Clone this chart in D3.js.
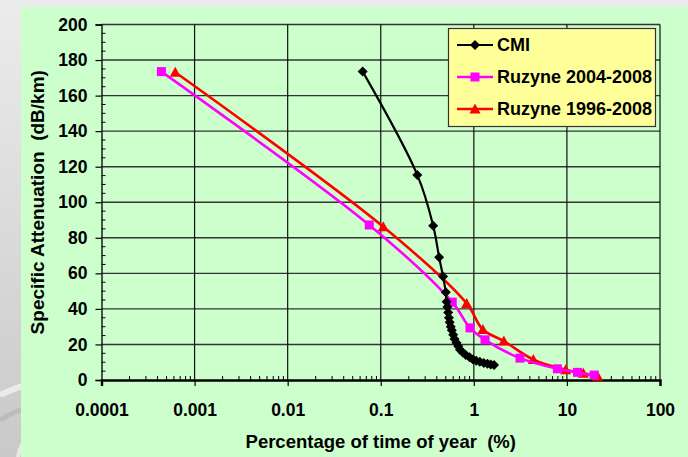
<!DOCTYPE html>
<html>
<head>
<meta charset="utf-8">
<script src="https://cdn.jsdelivr.net/npm/d3@7"></script>
<style>
  body { margin: 0; }
  svg { display: block; font-family: "Liberation Sans", Arial, sans-serif; font-weight: bold; }
</style>
</head>
<body>
<div id="my_dataviz"></div>
<script>
// values
var seriesNames = ["CMI", "Ruzyne 2004-2008", "Ruzyne 1996-2008"];

var cmiPct = [0.064, 0.247, 0.366, 0.424, 0.467, 0.50, 0.51, 0.52, 0.53, 0.54, 0.55, 0.565, 0.58, 0.60,
              0.62, 0.65, 0.68, 0.71, 0.76, 0.82, 0.9, 0.98, 1.06, 1.16, 1.28, 1.4, 1.52, 1.65];
var cmiAtt = [173.5, 115.4, 86.8, 69, 58.2, 49.3, 44, 41, 38, 35, 32.5, 30, 28, 25.5,
              23, 21, 19, 17, 15.5, 14, 12.8, 11.6, 10.8, 10.2, 9.6, 9.1, 8.7, 8.4];

var r0408Pct = [0.00044, 0.0752, 0.586, 0.91, 1.32, 3.13, 7.9, 13.0, 19.6];
var r0408Att = [173.5, 87.2, 43.8, 29.3, 22.6, 12.3, 6.3, 4.3, 2.8];

var r9608Pct = [0.00062, 0.1064, 0.837, 1.25, 2.1, 4.36, 9.7, 15.0, 21.4];
var r9608Att = [173.1, 86.2, 43.1, 28.4, 21.9, 11.5, 5.8, 3.8, 2.1];

var xTicks = [0.0001, 0.001, 0.01, 0.1, 1, 10, 100];
var xTickLabels = ["0.0001", "0.001", "0.01", "0.1", "1", "10", "100"];
var yTicks = [0, 20, 40, 60, 80, 100, 120, 140, 160, 180, 200];

// dimensions
var W = 688, H = 457;
var margin = {top: 24.5, right: 28, bottom: 77, left: 101.5},
    width = W - margin.left - margin.right,
    height = H - margin.top - margin.bottom;

var svg = d3.select("#my_dataviz").append("svg")
    .attr("width", W).attr("height", H);

// slide background
var defs = svg.append("defs");
var grad = defs.append("linearGradient").attr("id", "bg")
    .attr("x1", "0").attr("y1", "0").attr("x2", "0").attr("y2", "1");
grad.append("stop").attr("offset", "0").attr("stop-color", "#ececec");
grad.append("stop").attr("offset", "1").attr("stop-color", "#c9c9c9");
svg.append("rect").attr("width", W).attr("height", H).attr("fill", "url(#bg)");
svg.append("path").attr("d", "M0,395 Q40,375 120,370").attr("fill", "none")
    .attr("stroke", "#f2f2f2").attr("stroke-width", 6).attr("opacity", 0.8);
svg.append("path").attr("d", "M0,420 Q30,400 110,392").attr("fill", "none")
    .attr("stroke", "#b5b5b5").attr("stroke-width", 5).attr("opacity", 0.7);
svg.append("path").attr("d", "M18,457 Q22,430 60,418").attr("fill", "none")
    .attr("stroke", "#f0f0f0").attr("stroke-width", 4).attr("opacity", 0.8);

// green panel
svg.append("rect").attr("x", 21).attr("y", 7).attr("width", W - 21).attr("height", H - 7)
    .attr("fill", "#ccffcc");

var g = svg.append("g").attr("transform", `translate(${margin.left},${margin.top})`);

var xScale = d3.scaleLog().domain([0.0001, 100]).range([0, width]);
var yScale = d3.scaleLinear().domain([0, 200]).range([height, 0]);

// gridlines
g.append("g").selectAll("line").data(yTicks.filter(d => d > 0)).enter().append("line")
    .attr("x1", 0).attr("x2", width)
    .attr("y1", d => yScale(d)).attr("y2", d => yScale(d))
    .attr("stroke", "#333").attr("stroke-width", 1.4);
g.append("g").selectAll("line").data(xTicks.slice(1)).enter().append("line")
    .attr("x1", d => xScale(d)).attr("x2", d => xScale(d))
    .attr("y1", 0).attr("y2", height)
    .attr("stroke", "#111").attr("stroke-width", 1.2);

// y axis: major ticks outside, minor ticks inside
var yAxis = d3.axisLeft(yScale).tickValues(yTicks).tickSize(6).tickPadding(8).tickFormat(d3.format("d"));
var yAx = g.append("g").call(yAxis);
yAx.select(".domain").attr("stroke", "#000").attr("stroke-width", 1.3);
yAx.selectAll(".tick line").attr("stroke", "#000").attr("stroke-width", 1.2);
yAx.selectAll(".tick text").attr("font-size", 17.5).attr("font-weight", "bold")
    .attr("font-family", "Liberation Sans, Arial, sans-serif").attr("fill", "#000");

var yMinor = d3.range(0, 201, 5).filter(d => d % 20 !== 0);
g.append("g").selectAll("line").data(yMinor).enter().append("line")
    .attr("x1", 0).attr("x2", 4)
    .attr("y1", d => yScale(d)).attr("y2", d => yScale(d))
    .attr("stroke", "#000").attr("stroke-width", 1);

// x axis
var xAxis = d3.axisBottom(xScale).tickValues(xTicks).tickSize(6).tickPadding(18)
    .tickFormat((d, i) => xTickLabels[i]);
var xAx = g.append("g").attr("transform", `translate(0,${height})`).call(xAxis);
xAx.select(".domain").attr("stroke", "#000").attr("stroke-width", 2.4);
xAx.selectAll(".tick line").attr("stroke", "#000").attr("stroke-width", 1.2);
xAx.selectAll(".tick text").attr("font-size", 17.5).attr("font-weight", "bold")
    .attr("font-family", "Liberation Sans, Arial, sans-serif").attr("fill", "#000");

var xMinor = [];
xTicks.slice(0, -1).forEach(function(t) {
    for (var m = 2; m <= 9; m++) xMinor.push(t * m);
});
g.append("g").selectAll("line").data(xMinor).enter().append("line")
    .attr("x1", d => xScale(d)).attr("x2", d => xScale(d))
    .attr("y1", height).attr("y2", height - 4)
    .attr("stroke", "#000").attr("stroke-width", 1);

// axis titles
svg.append("text")
    .attr("transform", `translate(44,${margin.top + height / 2}) rotate(-90)`)
    .attr("text-anchor", "middle").attr("font-size", 19).attr("fill", "#000")
    .attr("xml:space", "preserve")
    .text("Specific Attenuation  (dB/km)");
svg.append("text")
    .attr("x", margin.left + width / 2).attr("y", 448)
    .attr("text-anchor", "middle").attr("font-size", 18.5).attr("fill", "#000")
    .attr("xml:space", "preserve")
    .text("Percentage of time of year  (%)");

// series
var zip = (xs, ys) => xs.map((x, i) => ({pct: x, att: ys[i]}));
var series = [
    {name: seriesNames[0], data: zip(cmiPct, cmiAtt), color: "#000000", width: 2.2, marker: "diamond"},
    {name: seriesNames[1], data: zip(r0408Pct, r0408Att), color: "#ff00ff", width: 2.6, marker: "square"},
    {name: seriesNames[2], data: zip(r9608Pct, r9608Att), color: "#ff0000", width: 2.6, marker: "triangle"}
];

var line = d3.line()
    .x(d => xScale(d.pct))
    .y(d => yScale(d.att))
    .curve(d3.curveCatmullRom.alpha(0.5));

function markerPath(type) {
    if (type === "diamond") return "M0,-5L5,0L0,5L-5,0Z";
    if (type === "square") return "M-4.5,-4.5H4.5V4.5H-4.5Z";
    return "M0,-5.5L5.5,4.5H-5.5Z";
}

var lineAndDots = g.append("g").attr("class", "line-and-dots");
// draw in reverse so CMI sits on top
series.slice().reverse().forEach(function(s) {
    lineAndDots.append("path")
        .datum(s.data)
        .attr("fill", "none")
        .attr("stroke", s.color)
        .attr("stroke-width", s.width)
        .attr("d", line);
    lineAndDots.selectAll(null)
        .data(s.data)
        .enter().append("path")
        .attr("d", markerPath(s.marker))
        .attr("transform", d => `translate(${xScale(d.pct)},${yScale(d.att)})`)
        .attr("fill", s.color);
});

// legend
var leg = svg.append("g");
leg.append("rect").attr("x", 448.5).attr("y", 28.5).attr("width", 207).attr("height", 98)
    .attr("fill", "#ffff99").attr("stroke", "#333").attr("stroke-width", 1.2);
series.forEach(function(s, i) {
    var yy = 45 + i * 32;
    leg.append("line").attr("x1", 457).attr("x2", 493).attr("y1", yy).attr("y2", yy)
        .attr("stroke", s.color).attr("stroke-width", s.width);
    leg.append("path").attr("d", markerPath(s.marker))
        .attr("transform", `translate(475,${yy})`).attr("fill", s.color);
    leg.append("text").attr("x", 497).attr("y", yy).attr("dy", "0.36em")
        .attr("font-size", 18).attr("fill", "#000").text(s.name);
});
</script>
</body>
</html>
